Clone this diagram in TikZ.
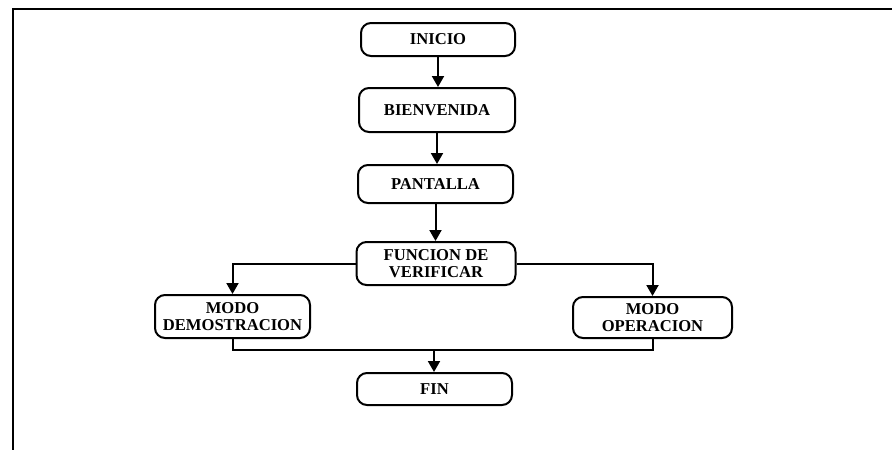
\documentclass[tikz,border=0pt]{standalone}
\usepackage{fontspec}
\setmainfont{Liberation Serif}
\usetikzlibrary{arrows.meta}
\begin{document}
\begin{tikzpicture}[x=1pt,y=-1pt,
  box/.style={draw, line width=2pt, rounded corners=10pt, inner sep=0pt,
    align=center, font=\fontsize{16.6}{16.5}\selectfont\bfseries},
  conn/.style={line width=2pt},
  arr/.style={conn, -{Triangle[width=12pt,length=11pt]}}]
\useasboundingbox (0,0) rectangle (892,450);
\draw[line width=2pt] (13,450) -- (13,9) -- (892,9);
\node[box, minimum width=154pt, minimum height=33pt] (ini) at (438,39.5) {INICIO};
\node[box, minimum width=156pt, minimum height=44pt] (bie) at (437,110) {BIENVENIDA};
\node[box, minimum width=155pt, minimum height=38pt] (pan) at (435.5,184) {PANTALLA};
\node[box, minimum width=159pt, minimum height=43pt] (fun) at (436,263.5) {FUNCION DE\\VERIFICAR};
\node[box, minimum width=155pt, minimum height=43pt] (dem) at (232.5,316.5) {MODO\\DEMOSTRACION};
\node[box, minimum width=159pt, minimum height=41pt] (ope) at (652.5,317.5) {MODO\\OPERACION};
\node[box, minimum width=155pt, minimum height=32pt] (fin) at (434.5,389) {FIN};
\draw[arr] (ini.south) -- (ini.south |- bie.north);
\draw[arr] (bie.south) -- (bie.south |- pan.north);
\draw[arr] (pan.south) -- (pan.south |- fun.north);
\draw[arr] (fun.west) -| (dem.north);
\draw[arr] (fun.east) -| (ope.north);
\coordinate (m) at (434,350);
\draw[conn] (dem.south) |- (m) -| (ope.south);
\draw[arr] (m) -- (m |- fin.north);
\end{tikzpicture}
\end{document}
